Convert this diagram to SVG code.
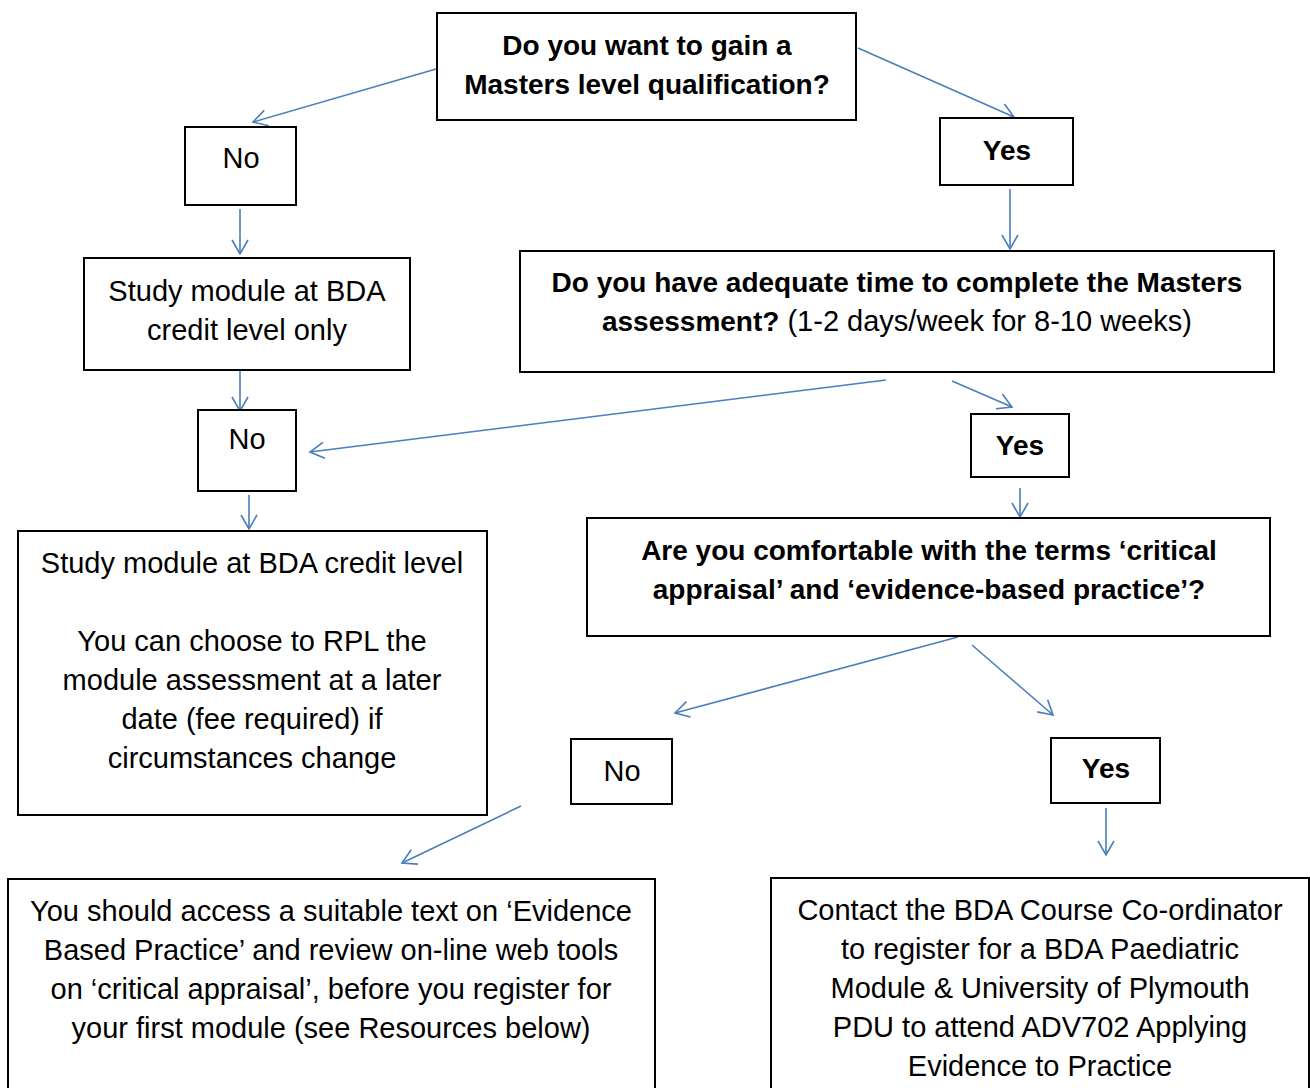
<svg xmlns="http://www.w3.org/2000/svg" width="1310" height="1088" viewBox="0 0 1310 1088">
<style>
.box{fill:#fff;stroke:#000;stroke-width:2}
.t{font-family:"Liberation Sans",Arial,sans-serif;font-size:29px;fill:#000;text-anchor:middle}
.b{font-family:"Liberation Sans",Arial,sans-serif;font-size:28px;font-weight:bold;fill:#000;text-anchor:middle}
.bw{font-weight:bold}
.c{stroke:#4a7ebb;stroke-width:1.6;fill:none;marker-end:url(#ah)}
</style>
<defs>
<marker id="ah" markerUnits="userSpaceOnUse" markerWidth="20" markerHeight="20" viewBox="-16 -10 20 20" refX="0" refY="0" orient="auto">
<path d="M-14,-8 L0,0 L-14,8" fill="none" stroke="#4a7ebb" stroke-width="1.6"/>
</marker>
</defs>
<rect width="1310" height="1088" fill="#fff"/>
<g id="connectors">
<line class="c" x1="436" y1="69" x2="253" y2="122"/>
<line class="c" x1="858" y1="48" x2="1014" y2="117"/>
<line class="c" x1="240" y1="209" x2="240" y2="254"/>
<line class="c" x1="1010" y1="189" x2="1010" y2="249"/>
<line class="c" x1="240" y1="368" x2="240" y2="411"/>
<line class="c" x1="886" y1="380" x2="310" y2="452"/>
<line class="c" x1="952" y1="381" x2="1012" y2="407"/>
<line class="c" x1="1020" y1="488" x2="1020" y2="517"/>
<line class="c" x1="249" y1="495" x2="249" y2="529"/>
<line class="c" x1="958" y1="637" x2="675" y2="713"/>
<line class="c" x1="972" y1="645" x2="1053" y2="715"/>
<line class="c" x1="1106" y1="808" x2="1106" y2="855"/>
<line class="c" x1="521" y1="806" x2="402" y2="863"/>
</g>
<g id="q1">
<rect class="box" x="437" y="13" width="419" height="107"/>
<text class="b" x="647" y="55">Do you want to gain a</text>
<text class="b" x="647" y="94">Masters level qualification?</text>
</g>
<g id="no1">
<rect class="box" x="185" y="127" width="111" height="78"/>
<text class="t" x="241" y="168">No</text>
</g>
<g id="yes1">
<rect class="box" x="940" y="118" width="133" height="67"/>
<text class="b" x="1007" y="160">Yes</text>
</g>
<g id="study1">
<rect class="box" x="84" y="258" width="326" height="112"/>
<text class="t" x="247" y="301">Study module at BDA</text>
<text class="t" x="247" y="340">credit level only</text>
</g>
<g id="q2">
<rect class="box" x="520" y="251" width="754" height="121"/>
<text class="b" x="897" y="292">Do you have adequate time to complete the Masters</text>
<text class="t" x="897" y="331"><tspan class="bw" font-size="28">assessment?</tspan> (1-2 days/week for 8-10 weeks)</text>
</g>
<g id="no2">
<rect class="box" x="198" y="410" width="98" height="81"/>
<text class="t" x="247" y="449">No</text>
</g>
<g id="yes2">
<rect class="box" x="971" y="414" width="98" height="63"/>
<text class="b" x="1020" y="455">Yes</text>
</g>
<g id="q3">
<rect class="box" x="587" y="518" width="683" height="118"/>
<text class="b" x="929" y="560">Are you comfortable with the terms ‘critical</text>
<text class="b" x="929" y="599">appraisal’ and ‘evidence-based practice’?</text>
</g>
<g id="study2">
<rect class="box" x="18" y="531" width="469" height="284"/>
<text class="t" x="252" y="573">Study module at BDA credit level</text>
<text class="t" x="252" y="651">You can choose to RPL the</text>
<text class="t" x="252" y="690">module assessment at a later</text>
<text class="t" x="252" y="729">date (fee required) if</text>
<text class="t" x="252" y="768">circumstances change</text>
</g>
<g id="no3">
<rect class="box" x="571" y="739" width="101" height="65"/>
<text class="t" x="622" y="781" font-size="28">No</text>
</g>
<g id="yes3">
<rect class="box" x="1051" y="738" width="109" height="65"/>
<text class="b" x="1106" y="778">Yes</text>
</g>
<g id="res">
<rect class="box" x="8" y="879" width="647" height="230"/>
<text class="t" x="331" y="921">You should access a suitable text on ‘Evidence</text>
<text class="t" x="331" y="960">Based Practice’ and review on-line web tools</text>
<text class="t" x="331" y="999">on ‘critical appraisal’, before you register for</text>
<text class="t" x="331" y="1038">your first module (see Resources below)</text>
</g>
<g id="contact">
<rect class="box" x="771" y="878" width="538" height="230"/>
<text class="t" x="1040" y="920">Contact the BDA Course Co-ordinator</text>
<text class="t" x="1040" y="959">to register for a BDA Paediatric</text>
<text class="t" x="1040" y="998">Module &amp; University of Plymouth</text>
<text class="t" x="1040" y="1037">PDU to attend ADV702 Applying</text>
<text class="t" x="1040" y="1076">Evidence to Practice</text>
</g>
</svg>
